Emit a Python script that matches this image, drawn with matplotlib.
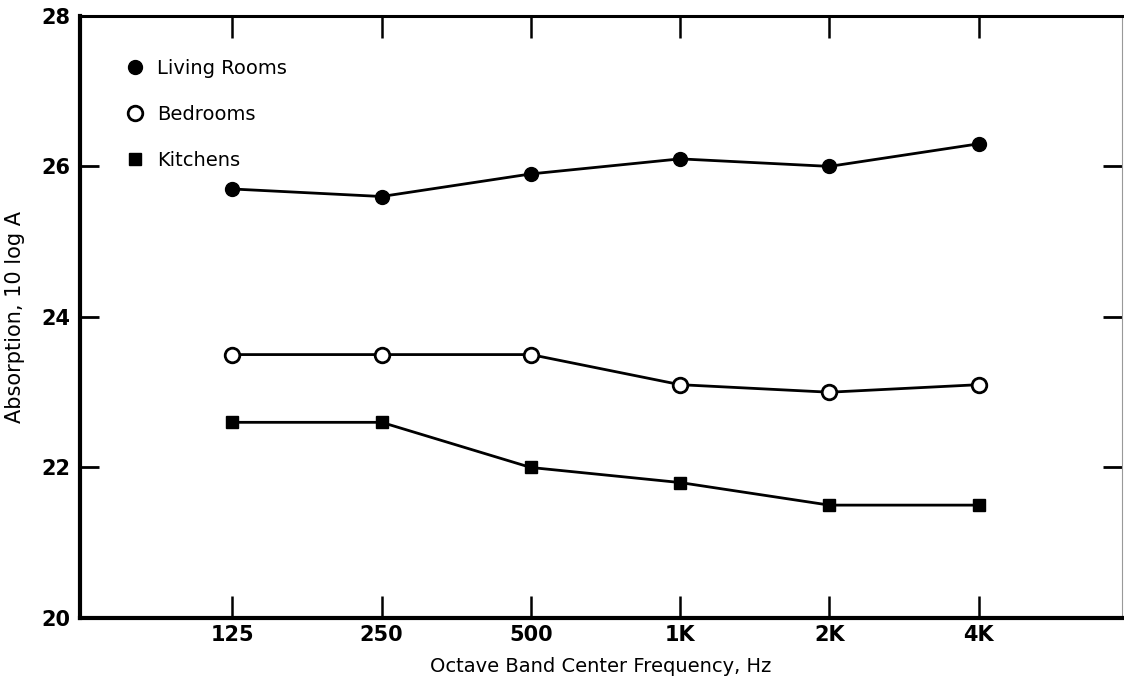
import matplotlib
matplotlib.use("Agg")
import matplotlib.pyplot as plt
from matplotlib.lines import Line2D

plt.rcParams['font.family'] = ['DejaVu Sans']

# octave bands and absorption values, 10 log A
bands = ['125', '250', '500', '1K', '2K', '4K']
living = [25.7, 25.6, 25.9, 26.1, 26.0, 26.3]
bedrooms = [23.5, 23.5, 23.5, 23.1, 23.0, 23.1]
kitchens = [22.6, 22.6, 22.0, 21.8, 21.5, 21.5]
yticks = [20, 22, 24, 26, 28]

fig = plt.figure(figsize=(11.24, 6.89), dpi=100)
ax = fig.add_axes([0.0712, 0.103, 0.927, 0.874])

x = list(range(len(bands)))
ax.plot(x, living, color='black', lw=2, marker='o', ms=10, mfc='black', mec='black')
ax.plot(x, bedrooms, color='black', lw=2, marker='o', ms=10.5, mfc='white', mec='black', mew=2)
ax.plot(x, kitchens, color='black', lw=2, marker='s', ms=9, mfc='black', mec='black')

ax.set_xlim(-1.02, 5.96)
ax.set_ylim(20, 28)
ax.set_xticks(x)
ax.set_xticklabels(bands)
ax.set_yticks(yticks)

for s in ['left', 'bottom']:
    ax.spines[s].set_linewidth(3)
ax.spines['top'].set_linewidth(2.2)
ax.spines['right'].set_linewidth(0.8)
ax.spines['right'].set_color('#999999')

ax.tick_params(axis='x', direction='in', top=True, length=16, width=1.8, pad=5,
               labelsize=15)
ax.tick_params(axis='y', direction='in', right=True, length=14, width=2, pad=7,
               labelsize=15)
for lab in ax.get_xticklabels() + ax.get_yticklabels():
    lab.set_fontweight('bold')

ax.set_xlabel('Octave Band Center Frequency, Hz', fontsize=14, labelpad=9)
ax.set_ylabel('Absorption, 10 log A', fontsize=15, labelpad=12)

handles = [
    Line2D([], [], ls='none', marker='o', ms=10, mfc='black', mec='black'),
    Line2D([], [], ls='none', marker='o', ms=10.5, mfc='white', mec='black', mew=2),
    Line2D([], [], ls='none', marker='s', ms=9, mfc='black', mec='black'),
]
ax.legend(handles, ['Living Rooms', 'Bedrooms', 'Kitchens'], loc='upper left',
          bbox_to_anchor=(0.027, 0.958), frameon=False, fontsize=14,
          handlelength=1.0, handletextpad=0.6, labelspacing=1.4)

fig.savefig('out.png', dpi=100)
